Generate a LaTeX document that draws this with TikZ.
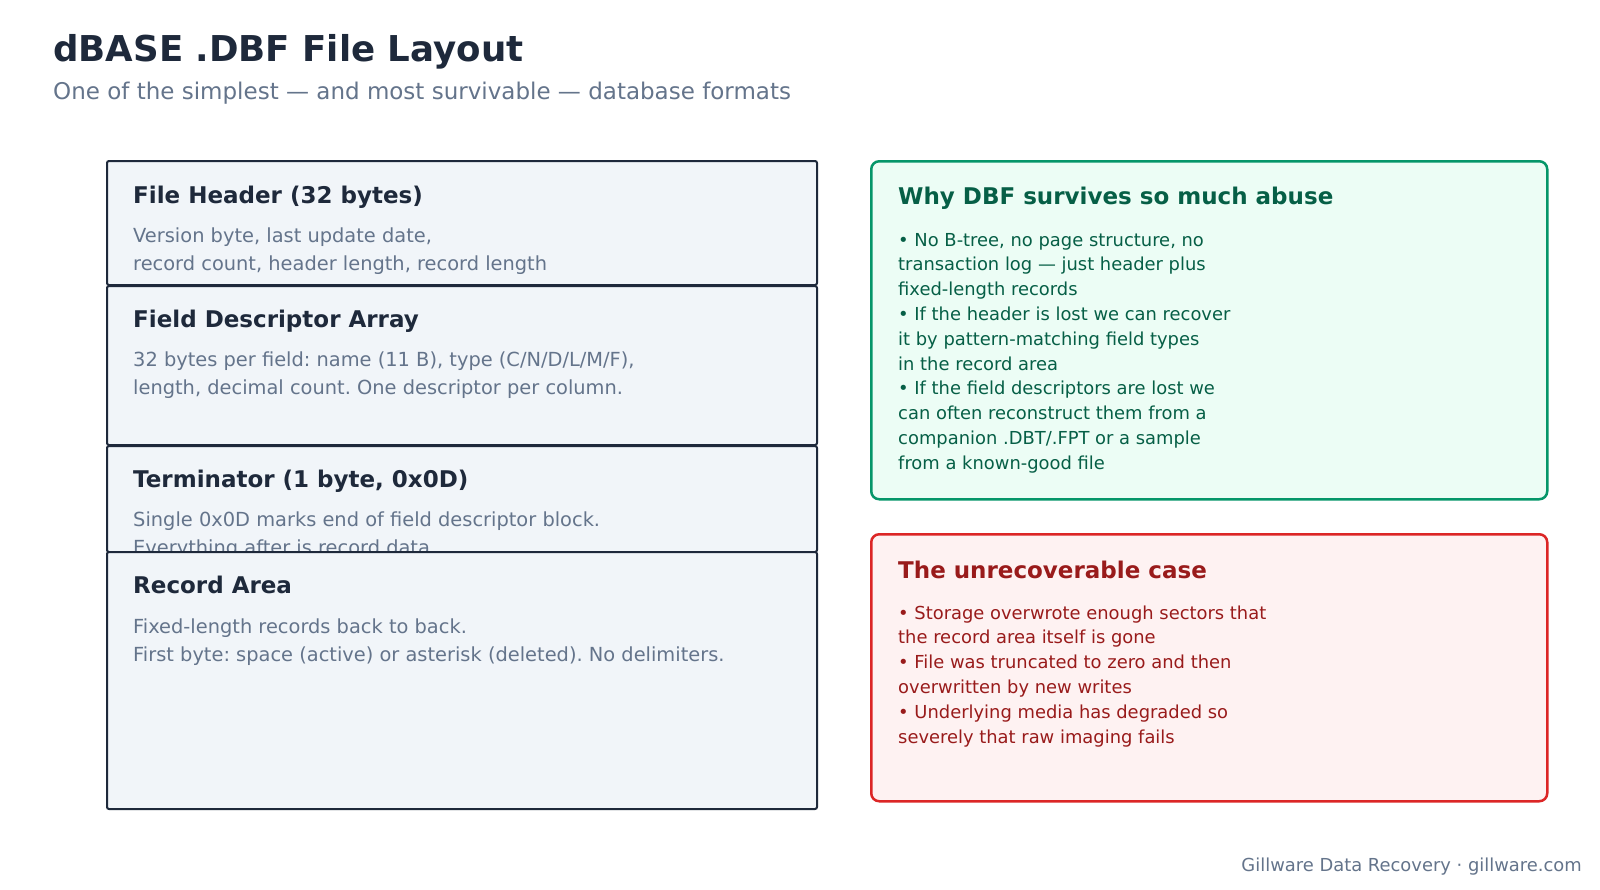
\documentclass[tikz,border=0pt]{standalone}
\usepackage{fontspec}
\setmainfont{DejaVu Sans}
\frenchspacing
\definecolor{ink}{HTML}{1E293B}
\definecolor{muted}{HTML}{64748B}
\definecolor{layerfill}{HTML}{F1F5F9}
\definecolor{okline}{HTML}{059669}
\definecolor{okfill}{HTML}{ECFDF5}
\definecolor{oktext}{HTML}{065F46}
\definecolor{badline}{HTML}{DC2626}
\definecolor{badfill}{HTML}{FEF2F2}
\definecolor{badtext}{HTML}{991B1B}
\tikzset{
  layer/.style={draw=ink, fill=layerfill, line width=2pt, rounded corners=2pt,
    anchor=north west, minimum width=710pt, inner sep=0pt},
  layertitle/.style={anchor=base west, inner sep=0pt, text=ink,
    font=\fontsize{23}{27}\selectfont\bfseries},
  % multi-line nodes sit on the baseline of their last line
  layerdesc/.style={anchor=base west, inner sep=0pt, text=muted, align=left,
    font=\fontsize{19.4}{28.4}\selectfont},
  panel/.style={line width=2.5pt, rounded corners=8pt, anchor=north west,
    minimum width=676pt, inner sep=0pt},
  paneltitle/.style={anchor=base west, inner sep=0pt,
    font=\fontsize{23}{27}\selectfont\bfseries},
  panelbody/.style={anchor=base west, inner sep=0pt, align=left,
    font=\fontsize{17.9}{24.8}\selectfont}
}
\begin{document}
\begin{tikzpicture}[x=1pt, y=-1pt]
\useasboundingbox (0,0) rectangle (1600,889);
\fill[white] (0,0) rectangle (1600,889);

% heading
\node[anchor=base west, inner sep=0pt, text=ink, font=\fontsize{35.6}{40}\selectfont\bfseries]
  (title) at (53,61) {dBASE .DBF File Layout};
\node[anchor=base west, inner sep=0pt, text=muted, font=\fontsize{23}{27}\selectfont]
  (subtitle) at (53,99) {One of the simplest — and most survivable — database formats};

% file layout, top to bottom
\node[layer, minimum height=124pt] (header) at (106,160) {};
\node[layertitle] (headerT) at (133,203) {File Header (32 bytes)};
\node[layerdesc] (headerD) at (133,270.4) {Version byte, last update date,\\record count, header length, record length};

\node[layer, minimum height=159pt] (fields) at (106,285) {};
\node[layertitle] (fieldsT) at (133,327) {Field Descriptor Array};
\node[layerdesc] (fieldsD) at (133,394.4) {32 bytes per field: name (11 B), type (C/N/D/L/M/F),\\length, decimal count. One descriptor per column.};

\node[layer, minimum height=106pt] (term) at (106,445) {};
\node[layertitle] (termT) at (133,487) {Terminator (1 byte, 0x0D)};
\node[layerdesc] (termD) at (133,554.4) {Single 0x0D marks end of field descriptor block.\\Everything after is record data.};

\node[layer, minimum height=257pt] (records) at (106,551) {};
\node[layertitle] (recordsT) at (133,593) {Record Area};
\node[layerdesc] (recordsD) at (133,661.4) {Fixed-length records back to back.\\First byte: space (active) or asterisk (deleted). No delimiters.};

% why it survives
\node[panel, draw=okline, fill=okfill, minimum height=338pt] (survive) at (870,160) {};
\node[paneltitle, text=oktext] (surviveT) at (898,204) {Why DBF survives so much abuse};
\node[panelbody, text=oktext] (surviveB) at (898,469.2) {• No B-tree, no page structure, no\\transaction log — just header plus\\fixed-length records\\• If the header is lost we can recover\\it by pattern-matching field types\\in the record area\\• If the field descriptors are lost we\\can often reconstruct them from a\\companion .DBT/.FPT or a sample\\from a known-good file};

% when it does not
\node[panel, draw=badline, fill=badfill, minimum height=267pt] (lost) at (870,533) {};
\node[paneltitle, text=badtext] (lostT) at (898,578) {The unrecoverable case};
\node[panelbody, text=badtext] (lostB) at (898,743) {• Storage overwrote enough sectors that\\the record area itself is gone\\• File was truncated to zero and then\\overwritten by new writes\\• Underlying media has degraded so\\severely that raw imaging fails};

\node[anchor=base east, inner sep=0pt, text=muted, font=\fontsize{17.9}{21}\selectfont]
  (credit) at (1582,871) {Gillware Data Recovery · gillware.com};
\end{tikzpicture}
\end{document}
